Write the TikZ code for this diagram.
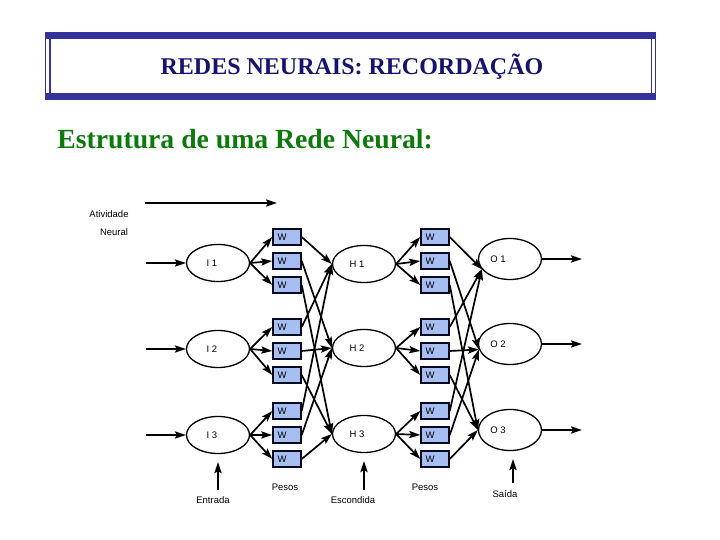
\documentclass[tikz,border=0pt]{standalone}
\usepackage{fontspec}
\setmainfont{Liberation Serif}
\setsansfont{Liberation Sans}
\usetikzlibrary{arrows.meta, shapes.geometric}
\definecolor{navybar}{HTML}{333399}
\definecolor{titlenavy}{HTML}{14146E}
\definecolor{headgreen}{HTML}{0B7A0B}
\definecolor{wblue}{HTML}{A6BEF2}

\begin{document}
\begin{tikzpicture}[
    x=0.5pt, y=-0.5pt,
    neuron/.style={ellipse, draw, line width=0.65pt, minimum width=31.5pt, minimum height=18.5pt, inner sep=0pt, font=\sffamily\fontsize{4.75}{5}\selectfont},
    wbox/.style={rectangle, draw=black!80!navybar, fill=wblue, line width=0.75pt, minimum width=14pt, minimum height=8pt, inner sep=0pt, font=\sffamily\fontsize{4.75}{5}\selectfont},
    lbl/.style={inner sep=0pt, font=\sffamily\fontsize{4.75}{5}\selectfont},
    arrow/.style={-{Stealth[length=5.5pt, width=3.6pt, inset=1pt]}, line width=0.85pt},
]
\useasboundingbox (0,0) rectangle (720,540);

% Title frame
\fill[navybar] (45,33) rectangle (656,39);
\fill[navybar] (45,93) rectangle (656,100);
\draw[navybar, line width=0.5pt] (45.5,33) rectangle (655.5,100);
\draw[navybar, line width=0.8pt] (50,39) -- (50,93);
\draw[navybar, line width=0.8pt] (651.5,39) -- (651.5,93);
\node[font=\bfseries\fontsize{12}{14}\selectfont, text=titlenavy] (title) at (352,67) {REDES NEURAIS: RECORDAÇÃO};

% Heading
\node[anchor=west, inner sep=0pt, font=\bfseries\fontsize{13.85}{16}\selectfont, text=headgreen] (heading) at (57,139) {Estrutura de uma Rede Neural:};

% Atividade neural
\node[lbl] (ativ) at (109,214) {Atividade};
\node[lbl] (neural) at (114,232) {Neural};
\coordinate (act0) at (145,203);
\coordinate (act1) at (277,203);
\draw[arrow] (act0) -- (act1);

% Inputs
\node[neuron] (i1) at (218,263) {I 1\hspace*{6pt}};
\node[neuron] (i2) at (218,349) {I 2\hspace*{6pt}};
\node[neuron] (i3) at (218,435) {I 3\hspace*{6pt}};

% Hidden
\node[neuron] (h1) at (364,264) {H 1\hspace*{7pt}};
\node[neuron] (h2) at (364,348) {H 2\hspace*{7pt}};
\node[neuron] (h3) at (364,434) {H 3\hspace*{7pt}};

% Outputs
\node[neuron, minimum height=20.5pt] (o1) at (510,259) {O 1\hspace*{12pt}};
\node[neuron, minimum height=20.5pt] (o2) at (510,344) {O 2\hspace*{12pt}};
\node[neuron, minimum height=20.5pt] (o3) at (510,430) {O 3\hspace*{12pt}};

% Weights
\foreach \g/\ya/\yb/\yc in {1/237/261/285, 2/327/351/375, 3/411/435/459} {
    \node[wbox] (wa\g1) at (287,\ya) {W\hspace*{5pt}};
    \node[wbox] (wa\g2) at (287,\yb) {W\hspace*{5pt}};
    \node[wbox] (wa\g3) at (287,\yc) {W\hspace*{5pt}};
    \node[wbox] (wb\g1) at (435,\ya) {W\hspace*{5pt}};
    \node[wbox] (wb\g2) at (435,\yb) {W\hspace*{5pt}};
    \node[wbox] (wb\g3) at (435,\yc) {W\hspace*{5pt}};
}

% Connections
\foreach \g in {1,2,3} {
    \foreach \k/\oa in {1/200, 2/190, 3/180} {
        \draw[arrow] (i\g.east) -- (wa\g\k.west);
        \draw[arrow] (wa\g\k.east) -- (h\k.west);
        \draw[arrow] (h\g.east) -- (wb\g\k.west);
        \draw[arrow] (wb\g\k.east) -- (o\k.\oa);
    }
}

% In and out
\foreach \n/\yi/\yo in {1/263/259, 2/349/344, 3/435/430} {
    \coordinate (in\n) at (146,\yi);
    \coordinate (out\n) at (582,\yo);
    \draw[arrow] (in\n) -- (i\n);
    \draw[arrow] (o\n) -- (out\n);
}

% Bottom labels
\node[lbl] (entrada) at (213,500) {Entrada};
\node[lbl] (escondida) at (353,500) {Escondida};
\node[lbl] (saida) at (505,494) {Saída};
\node[lbl] (pesosa) at (285,487) {Pesos};
\node[lbl] (pesosb) at (425,487) {Pesos};
\coordinate (inbase) at (218,490);
\coordinate (hidbase) at (364,490);
\coordinate (outbase) at (513,483);
\draw[arrow, shorten >=4pt] (inbase) -- (i3);
\draw[arrow, shorten >=4pt] (hidbase) -- (h3);
\draw[arrow, shorten >=4pt] (outbase) -- (outbase |- o3.south);

\end{tikzpicture}
\end{document}
